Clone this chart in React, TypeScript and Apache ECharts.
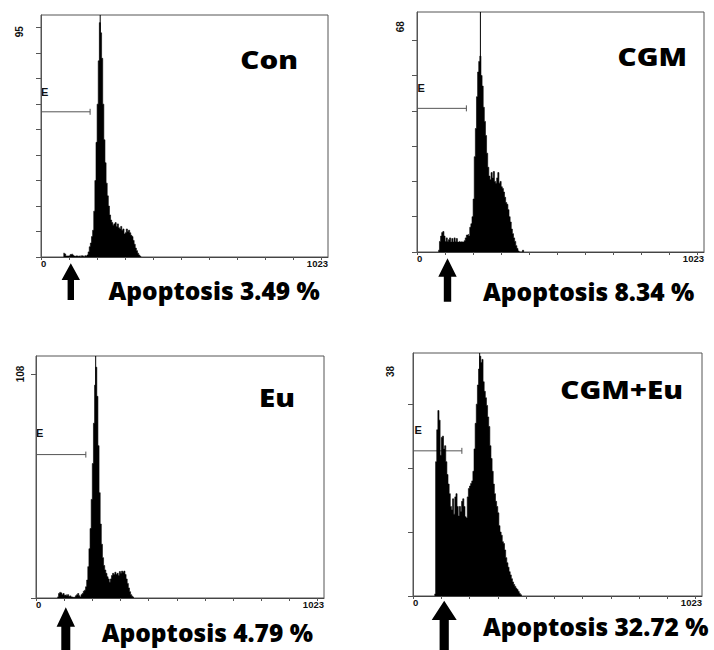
import React, { useEffect, useRef } from "react";
import * as echarts from "echarts";

// ---- data ----
const panelNames = ["Con", "CGM", "Eu", "CGM+Eu"];
const apoptosisLabels = ["Apoptosis 3.49 %", "Apoptosis 8.34 %", "Apoptosis 4.79 %", "Apoptosis 32.72 %"];
const yMaxValues = [95, 68, 108, 38];
const yTickValues = [
  [0, 10, 20, 30, 40, 50, 60, 70, 80, 90],
  [0, 10, 20, 30, 40, 50, 60],
  [0, 100],
  [0, 10, 20, 30],
];
const xTickValues = [0, 100, 200, 300, 400, 500, 600, 700, 800, 900, 1000];
const xLabelValues = [0, 1023];
const xMax = 1023;
const binWidth = 4;
const gateMarker = "E";
const gateEnd = [175, 176, 177, 173];
const gateLevel = [57, 40.7, 64, 22.7];
const peakChannels = [211, 226, 212, 236];

const conStart = 80;
const conCounts = [
  1.5, 1.2, 0.4, 0.4, 0.4, 0.6, 1.0, 1.2, 0.8, 0.4, 0.3, 0.5, 0.3, 0.3, 0.5, 0, 0.5, 0.4, 0, 0.5,
  0.3, 0.8, 2, 4, 5.5, 8, 10.5, 18, 30, 45, 60, 77, 92, 88, 78, 60, 46, 37, 29, 24,
  20, 16.5, 14.5, 13.5, 12.5, 13, 13.5, 12, 13, 11.5, 11, 12, 10.5, 11, 9, 9.5, 11, 10, 10.5, 9.5,
  8.5, 8, 6.5, 5, 3.5, 2.5, 1.5, 0.8, 0.3,
];

const cgmStart = 76;
const cgmCounts = [
  0.5, 3, 4.5, 5.5, 5.8, 4.5, 3, 4, 3, 3.5, 4, 2.8, 3.8, 2.8, 4, 2.9, 3.8, 2.8, 3, 2.8,
  2.9, 2.8, 2.8, 3.2, 4, 4.8, 5, 4.5, 7, 8, 10, 15, 27, 35, 44, 51, 54, 55.5, 50, 47,
  41, 37, 33, 28, 24, 21.5, 20.5, 22.5, 21, 22.8, 20, 19.5, 21, 22.5, 19.5, 20, 18.5, 18, 17, 15.5,
  14, 13.5, 12, 10, 8.5, 6.5, 5.2, 4, 3, 1.8, 1, 0.3, 0, 0, 0, 0.5,
];

const euStart = 76;
const euCounts = [
  0.5, 2, 2.5, 2.2, 1.5, 2, 1.2, 1.5, 1, 1.5, 0.8, 1, 0.5, 0.3, 0.3, 0.3, 1, 1.5, 2, 1,
  0.5, 1.5, 2, 3, 3.5, 5, 8, 14, 22, 31, 44, 60, 78, 95, 103, 90, 68, 47, 33, 24,
  18, 14.5, 12.5, 11, 9.5, 8.5, 7, 8.5, 10, 11, 10.5, 11.5, 10.5, 11, 10, 11.8, 11, 12, 11.5, 12,
  10.5, 8.5, 6.5, 4.5, 2.8, 1.5, 0.8, 0.3,
];

const cgmEuStart = 76;
const cgmEuCounts = [
  0.3, 21, 26, 29, 27.5, 22, 24.8, 25, 23, 23.5, 21, 19, 17.5, 16, 14, 13.5, 15.2, 12.8, 15.5, 16,
  14, 12.5, 14, 13.2, 14.8, 15.2, 14, 12.4, 12.2, 15.5, 16.8, 17.2, 17.6, 18, 19.5, 23, 27, 30, 33, 35.5,
  37.5, 36.5, 37, 33.5, 32, 31, 29.8, 28, 26.5, 23.5, 21.5, 19.5, 17.5, 16, 14.8, 14, 13, 11, 10, 9.5,
  8.5, 8.2, 7.2, 6, 5.2, 4.5, 3.8, 3.3, 2.7, 2.2, 1.8, 1.5, 1.2, 1, 0.7, 0.4, 0.2,
];

const histStarts = [conStart, cgmStart, euStart, cgmEuStart];
const histCounts = [conCounts, cgmCounts, euCounts, cgmEuCounts];

// ---- layout (pixels) ----
const grids = [
  { left: 41, top: 15, width: 287, height: 242 },
  { left: 417, top: 12, width: 287, height: 240 },
  { left: 36, top: 356, width: 288, height: 242 },
  { left: 413, top: 353, width: 289, height: 243 },
];
// cap-centre positions
const titlePos = [
  { x: 298, y: 59 },
  { x: 687, y: 56 },
  { x: 295, y: 397.5 },
  { x: 683, y: 389 },
];
const apoPos = [
  { x: 108.5, y: 290.8 },
  { x: 483, y: 291.3 },
  { x: 101.7, y: 632.3 },
  { x: 483, y: 626 },
];
const ePos = [
  { x: 41, y: 91.5 },
  { x: 417.5, y: 87.5 },
  { x: 36, y: 433 },
  { x: 414.5, y: 430 },
];
const yMaxPos = [
  { x: 19.3, y: 31.7 },
  { x: 400.8, y: 26.7 },
  { x: 20.5, y: 374 },
  { x: 390.5, y: 371.5 },
];
const arrows = [
  { cx: 70.8, tip: 263.3, base: 280, bottom: 300, hw: 9.2, sw: 3.2 },
  { cx: 447.5, tip: 258.3, base: 276.7, bottom: 301.7, hw: 9.2, sw: 3.7 },
  { cx: 65.8, tip: 607.3, base: 626.7, bottom: 652, hw: 9.2, sw: 4.5 },
  { cx: 444.2, tip: 600.7, base: 620, bottom: 652, hw: 12.5, sw: 4.6 },
];

function stepData(start: number, counts: number[]) {
  const pts: number[][] = counts.map((c, i) => [start + i * binWidth, c]);
  pts.push([start + counts.length * binWidth, 0]);
  return pts;
}

export default function App() {
  const ref = useRef<HTMLDivElement>(null);
  useEffect(() => {
    if (!ref.current) return;
    const chart = echarts.init(ref.current, undefined, { renderer: "svg" });

    const series: any[] = [];
    const graphic: any[] = [];
    grids.forEach((g, i) => {
      const d = (3 * yMaxValues[i]) / g.height;
      series.push({
        type: "line",
        xAxisIndex: i,
        yAxisIndex: i,
        data: [
          [0, gateLevel[i]],
          [gateEnd[i], gateLevel[i]],
        ],
        symbol: "none",
        lineStyle: { color: "#555", width: 1 },
        silent: true,
        z: 1,
      });
      series.push({
        type: "line",
        xAxisIndex: i,
        yAxisIndex: i,
        data: [
          [gateEnd[i], gateLevel[i] - d],
          [gateEnd[i], gateLevel[i] + d],
        ],
        symbol: "none",
        lineStyle: { color: "#555", width: 1 },
        silent: true,
        z: 1,
      });
      series.push({
        type: "line",
        xAxisIndex: i,
        yAxisIndex: i,
        step: "end",
        data: stepData(histStarts[i], histCounts[i]),
        symbol: "none",
        lineStyle: { color: "#000", width: 0.6 },
        areaStyle: { color: "#000", opacity: 1 },
        silent: true,
        z: 2,
      });
      series.push({
        type: "line",
        xAxisIndex: i,
        yAxisIndex: i,
        data: [
          [peakChannels[i], 0],
          [peakChannels[i], yMaxValues[i]],
        ],
        symbol: "none",
        lineStyle: { color: "#000", width: 1 },
        silent: true,
        z: 3,
      });

      graphic.push({
        type: "text",
        x: titlePos[i].x,
        y: titlePos[i].y,
        scaleX: 1.18,
        style: {
          text: panelNames[i],
          fontFamily: "Open Sans",
          fontWeight: 800,
          fontSize: 25,
          lineHeight: 20,
          fill: "#000",
          align: "right",
          verticalAlign: "middle",
        },
      });
      graphic.push({
        type: "text",
        x: apoPos[i].x,
        y: apoPos[i].y,
        style: {
          text: apoptosisLabels[i],
          fontFamily: "Open Sans",
          fontWeight: 800,
          fontSize: 24.5,
          lineHeight: 18,
          fill: "#000",
          align: "left",
          verticalAlign: "middle",
        },
      });
      graphic.push({
        type: "text",
        x: ePos[i].x,
        y: ePos[i].y,
        style: {
          text: gateMarker,
          fontFamily: "Liberation Sans",
          fontWeight: "bold",
          fontSize: 11,
          fill: "#111",
          align: "left",
          verticalAlign: "middle",
        },
      });
      graphic.push({
        type: "text",
        x: yMaxPos[i].x,
        y: yMaxPos[i].y,
        rotation: Math.PI / 2,
        style: {
          text: String(yMaxValues[i]),
          fontFamily: "Liberation Sans",
          fontWeight: "bold",
          fontSize: 10,
          fill: "#111",
          align: "center",
          verticalAlign: "middle",
        },
      });
      const a = arrows[i];
      graphic.push({
        type: "polygon",
        shape: {
          points: [
            [a.cx, a.tip],
            [a.cx + a.hw, a.base],
            [a.cx + a.sw, a.base],
            [a.cx + a.sw, a.bottom],
            [a.cx - a.sw, a.bottom],
            [a.cx - a.sw, a.base],
            [a.cx - a.hw, a.base],
          ],
        },
        style: { fill: "#000" },
      });
    });

    chart.setOption({
      animation: false,
      backgroundColor: "#fff",
      grid: grids.map((g) => ({
        ...g,
        show: true,
        borderColor: "#555",
        borderWidth: 1,
        backgroundColor: "transparent",
      })),
      xAxis: grids.map((_, i) => ({
        type: "value",
        gridIndex: i,
        min: 0,
        max: xMax,
        splitLine: { show: false },
        axisLine: { show: true, lineStyle: { color: "#444", width: 1 } },
        axisTick: { show: true, length: 3, customValues: xTickValues, lineStyle: { color: "#555" } },
        axisLabel: {
          show: true,
          customValues: xLabelValues,
          formatter: (v: number) => String(v),
          alignMinLabel: "left",
          alignMaxLabel: "right",
          fontFamily: "Liberation Sans",
          fontWeight: "bold",
          fontSize: 9.5,
          lineHeight: 9,
          color: "#111",
          margin: 2,
        },
      })),
      yAxis: grids.map((_, i) => ({
        type: "value",
        gridIndex: i,
        min: 0,
        max: yMaxValues[i],
        splitLine: { show: false },
        axisLine: { show: true, lineStyle: { color: "#555", width: 1 } },
        axisTick: { show: true, length: 5, customValues: yTickValues[i], lineStyle: { color: "#555" } },
        axisLabel: { show: false },
      })),
      series,
      graphic,
    });

    return () => chart.dispose();
  }, []);

  return (
    <div
      ref={ref}
      style={{ position: "fixed", left: 0, top: 0, width: 714, height: 650, background: "#fff" }}
    />
  );
}
